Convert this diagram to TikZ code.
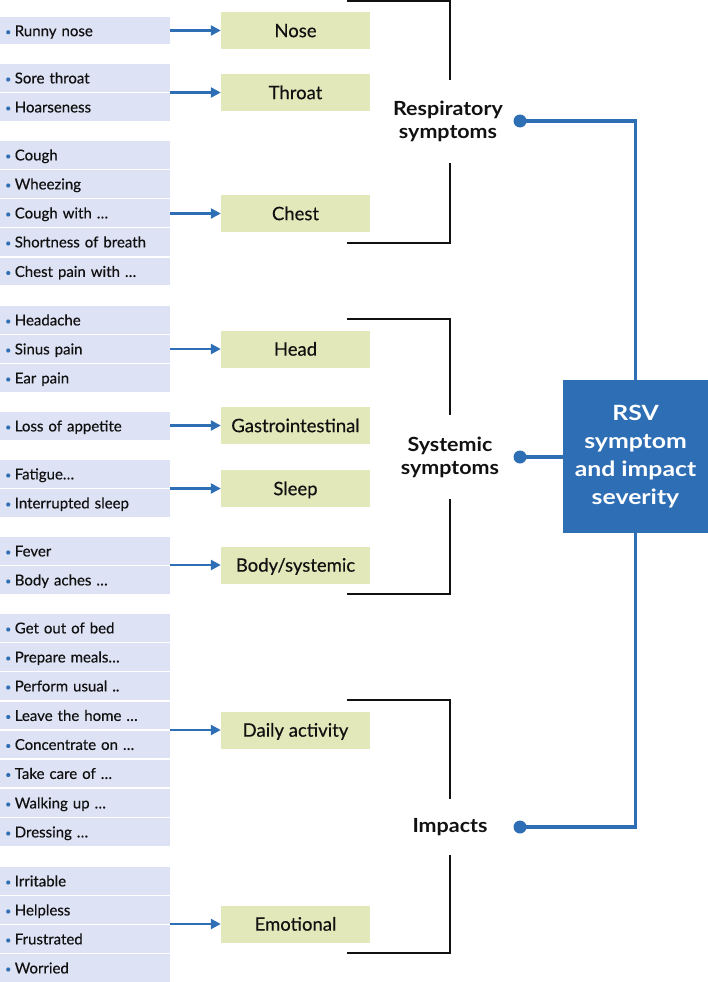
\documentclass[tikz,border=0pt]{standalone}
\usepackage{fontspec}
\setmainfont{Lato}
\newfontfamily\itemfont{Lato}[FakeBold=0.35]
\newfontfamily\grpfont{Lato Bold}[FakeStretch=1.1]
\newfontfamily\rsvfont{Lato Bold}[FakeStretch=1.18]
\usetikzlibrary{arrows.meta,calc}
\definecolor{itembg}{HTML}{DDE2F4}
\definecolor{catbg}{HTML}{E2E8B9}
\definecolor{rsvblue}{HTML}{2E6EB5}
\definecolor{ink}{HTML}{111111}
\tikzset{
  item/.style={fill=itembg, anchor=west, minimum width=170pt, minimum height=27.5pt,
    text width=160pt, inner xsep=5pt, inner ysep=0pt, align=left, text height=10.8pt, text depth=0pt,
    font=\itemfont\fontsize{15}{16}\selectfont, text=ink},
  cat/.style={fill=catbg, minimum width=149pt, minimum height=37pt, inner sep=0pt,
    text height=13.3pt, text depth=0pt, font=\itemfont\fontsize{18.5}{20}\selectfont, text=ink},
  grp/.style={font=\grpfont\fontsize{19.5}{23}\selectfont, align=center, text=ink, inner sep=0pt},
  rsvbox/.style={fill=rsvblue, minimum width=145pt, minimum height=153pt, inner sep=0pt,
    text=white, font=\rsvfont\fontsize{21}{28}\selectfont, align=center},
  arr/.style={draw=rsvblue, line width=2.4pt, -{Triangle[length=10pt,width=10pt]}},
  blu/.style={draw=rsvblue, line width=3.5pt},
  brk/.style={draw=ink, line width=1.6pt},
  dot/.style={circle, fill=rsvblue, minimum size=13pt, inner sep=0pt}
}
\newcommand{\bul}{\textcolor{rsvblue}{\raisebox{0.1ex}{\scalebox{0.7}{•}}}\hspace{3.5pt}}
\begin{document}
\begin{tikzpicture}[x=1pt,y=-1pt]
\useasboundingbox (0,0) rectangle (708,982);
% item column
\foreach \n/\y/\t in {
  a1/30.75/Runny nose,
  b1/78/Sore throat, b2/107/Hoarseness,
  c1/155/Cough, c2/184/Wheezing, c3/213/Cough with \dots, c4/242/Shortness of breath, c5/271.5/Chest pain with \dots,
  d1/320/Headache, d2/349/Sinus pain, d3/378/Ear pain,
  e1/426/Loss of appetite,
  f1/474/Fatigue\dots, f2/503/Interrupted sleep,
  g1/551/Fever, g2/580/Body aches \dots,
  h1/628/Get out of bed, h2/657/Prepare meals\dots, h3/686/Perform usual .., h4/715.5/Leave the home \dots,
  h5/744.5/Concentrate on \dots, h6/773.5/Take care of \dots, h7/803/Walking up \dots, h8/832/Dressing \dots,
  k1/881/Irritable, k2/910/Helpless, k3/939/Frustrated, k4/968/Worried}
  \node[item] (\n) at (0,\y) {\bul\t};
% categories
\node[cat] (nose) at (295.5,30.5) {Nose};
\node[cat] (throat) at (295.5,92.5) {Throat};
\node[cat] (chest) at (295.5,213.5) {Chest};
\node[cat] (head) at (295.5,349) {Head};
\node[cat] (gastro) at (295.5,425.5) {Gastrointestinal};
\node[cat] (sleep) at (295.5,488.5) {Sleep};
\node[cat] (body) at (295.5,565) {Body/systemic};
\node[cat] (daily) at (295.5,730) {Daily activity};
\node[cat] (emo) at (295.5,924) {Emotional};
% arrows
\foreach \c/\i in {nose/a1, throat/b1, chest/c3, head/d2, gastro/e1, sleep/f1, body/g1, daily/h4, emo/k2}
  \draw[arr] (\c.west -| \i.east) -- (\c.west);
% group labels
\node[grp] (resp) at (448,121) {Respiratory\\symptoms};
\node[grp] (syst) at (450,457) {Systemic\\symptoms};
\node[grp] (imp) at (450,827) {Impacts};
% brackets
\coordinate (r1) at (347,0.8); \coordinate (r2) at (450,0.8); \coordinate (r3) at (450,80);
\coordinate (r4) at (450,163); \coordinate (r5) at (450,243); \coordinate (r6) at (347,243);
\draw[brk] (r1) -- (r2) -- (r3);
\draw[brk] (r4) -- (r5) -- (r6);
\coordinate (s1) at (347,319); \coordinate (s2) at (450,319); \coordinate (s3) at (450,415);
\coordinate (s4) at (450,499); \coordinate (s5) at (450,594); \coordinate (s6) at (347,594);
\draw[brk] (s1) -- (s2) -- (s3);
\draw[brk] (s4) -- (s5) -- (s6);
\coordinate (m1) at (347,700); \coordinate (m2) at (450,700); \coordinate (m3) at (450,799);
\coordinate (m4) at (450,855); \coordinate (m5) at (450,953); \coordinate (m6) at (347,953);
\draw[brk] (m1) -- (m2) -- (m3);
\draw[brk] (m4) -- (m5) -- (m6);
% RSV box
\node[rsvbox] (rsv) at (635.5,456.5) {RSV\\symptom\\and impact\\severity};
\node[dot] (p1) at (520,121) {};
\node[dot] (p2) at (520,457) {};
\node[dot] (p3) at (520,827) {};
\draw[blu] (p1.center) -| (rsv.north);
\draw[blu] (p2.center) -- (p2.center -| rsv.west);
\draw[blu] (p3.center) -| (rsv.south);
\end{tikzpicture}
\end{document}
